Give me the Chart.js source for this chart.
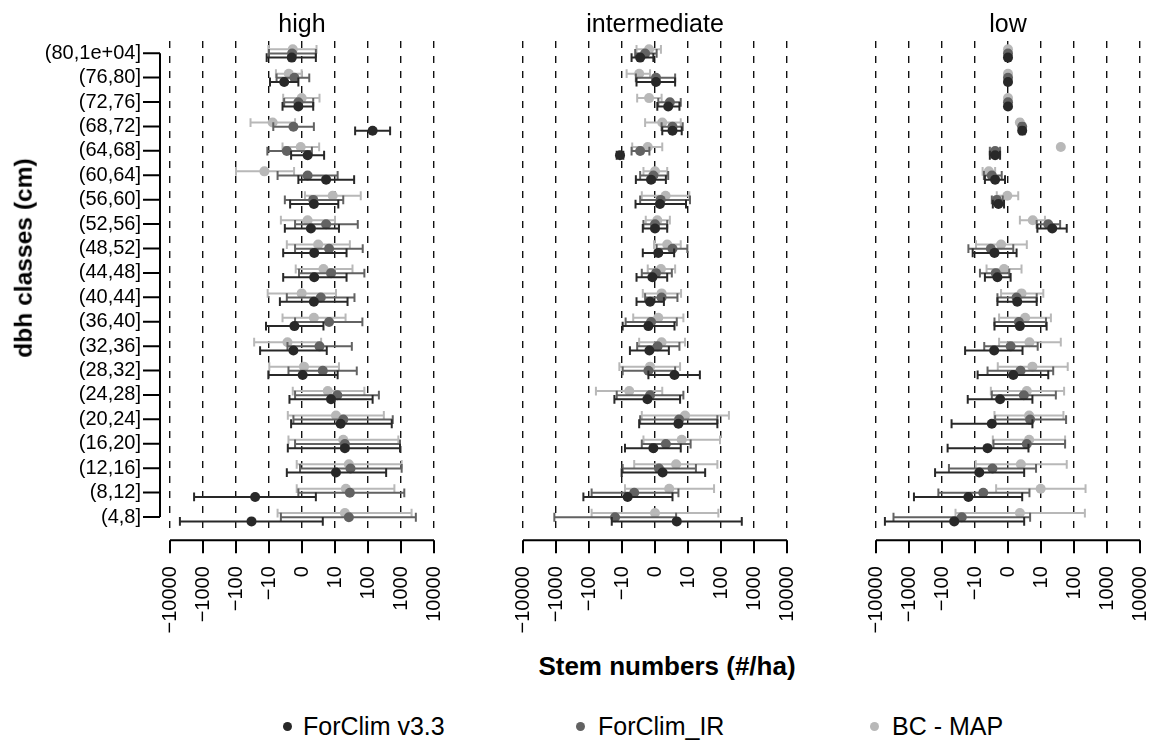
<!DOCTYPE html>
<html>
<head>
<meta charset="utf-8">
<title>Stem numbers by dbh class</title>
<script src="https://cdn.jsdelivr.net/npm/chart.js@4.4.1/dist/chart.umd.min.js"></script>
<style>
  body { margin: 0; background: #fff; }
  #fig { position: relative; width: 1151px; height: 742px; overflow: hidden;
         font-family: "Liberation Sans", Arial, Helvetica, sans-serif; color: #000; }
  #fig canvas { position: absolute; top: 0; }
  #ytitle { position: absolute; left: 23.5px; top: 258px; font-weight: bold; font-size: 24.6px;
            line-height: 1; white-space: nowrap; transform: translate(-50%, -50%) rotate(-90deg); }
  #xtitle { position: absolute; left: 667px; top: 653px; font-weight: bold; font-size: 26px;
            line-height: 1; white-space: nowrap; transform: translateX(-50%); }
  .lg-dot { position: absolute; width: 9px; height: 9px; border-radius: 50%; }
  .lg-txt { position: absolute; top: 714px; font-size: 25px; line-height: 1; white-space: nowrap; }
</style>
</head>
<body>
<div id="fig">
  <canvas id="pHigh" width="450" height="650" style="left:0px"></canvas>
  <canvas id="pInter" width="350" height="650" style="left:460px"></canvas>
  <canvas id="pLow" width="331" height="650" style="left:820px"></canvas>
  <div id="ytitle">dbh classes (cm)</div>
  <div id="xtitle">Stem numbers (#/ha)</div>
</div>
<script>
// dbh classes, top to bottom
const dbhClasses = ['(80,1e+04]', '(76,80]', '(72,76]', '(68,72]', '(64,68]', '(60,64]', '(56,60]',
  '(52,56]', '(48,52]', '(44,48]', '(40,44]', '(36,40]', '(32,36]', '(28,32]', '(24,28]',
  '(20,24]', '(16,20]', '(12,16]', '(8,12]', '(4,8]'];

// x axis is a symmetric log index: position k <-> +/-10^|k|
const tickValues = [-4, -3, -2, -1, 0, 1, 2, 3, 4];
const tickLabels = ['\u221210000', '\u22121000', '\u2212100', '\u221210', '0', '10', '100', '1000', '10000'];

// [mean, lower, upper] per dbh class, in axis units
const highV33 = [[-0.31,-1.07,0.42],[-0.54,-0.97,-0.11],[-0.11,-0.59,0.34],[2.14,1.61,2.67],[0.17,-0.33,0.67],
  [0.73,-0.11,1.58],[0.36,-0.36,1.10],[0.27,-0.52,1.12],[0.37,-0.57,1.35],[0.37,-0.57,1.35],
  [0.36,-0.67,1.38],[-0.23,-1.09,0.65],[-0.26,-1.27,0.75],[0.02,-1.02,1.08],[0.88,-0.38,2.14],
  [1.17,-0.33,2.72],[1.30,-0.43,2.97],[1.03,-0.46,2.55],[-1.42,-3.27,0.42],[-1.53,-3.70,0.63]];
const highIR = [[-0.30,-1.00,0.42],[-0.23,-0.77,0.22],[-0.11,-0.54,0.34],[-0.26,-0.87,0.36],[-0.46,-1.05,0.30],
  [0.17,-0.74,1.08],[0.34,-0.52,1.25],[0.73,-0.21,1.69],[0.82,-0.21,1.84],[0.88,-0.09,1.89],
  [0.57,-0.46,1.59],[0.82,-0.21,1.83],[0.53,-0.44,1.51],[0.63,-0.41,1.66],[1.07,-0.21,2.33],
  [1.25,-0.26,2.75],[1.30,-0.21,2.97],[1.47,-0.06,3.02],[1.45,-0.11,3.10],[1.42,-0.64,3.45]];
const highBC = [[-0.28,-1.02,0.44],[-0.40,-0.79,-0.01],[-0.01,-0.57,0.53],[-0.89,-1.56,-0.21],[-0.04,-0.59,0.52],
  [-1.14,-2.00,-0.24],[0.93,0.09,1.78],[0.17,-0.64,1.00],[0.49,-0.46,1.45],[0.65,-0.19,1.53],
  [-0.01,-1.04,1.03],[0.36,-0.59,1.32],[-0.44,-1.45,0.58],[0.06,-0.99,1.12],[0.78,-0.28,1.89],
  [1.03,-0.43,2.48],[1.25,-0.41,2.92],[1.42,-0.16,3.02],[1.33,-0.16,2.80],[1.30,-0.74,3.32]];

const interV33 = [[-0.45,-0.71,-0.05],[0.03,-0.56,0.61],[0.40,0.07,0.74],[0.53,0.22,0.81],[-1.06,-1.16,-0.96],
  [-0.12,-0.58,0.33],[0.15,-0.59,0.94],[0.00,-0.37,0.37],[0.10,-0.37,0.58],[-0.08,-0.56,0.37],
  [-0.15,-0.56,0.27],[-0.20,-0.98,0.59],[-0.17,-0.76,0.42],[0.59,-0.20,1.36],[-0.23,-1.23,0.76],
  [0.71,-0.48,1.89],[-0.05,-0.91,0.78],[0.23,-1.01,1.52],[-0.83,-2.17,0.53],[0.66,-1.31,2.63]];
const interIR = [[-0.30,-0.60,0.05],[0.03,-0.58,0.61],[0.45,0.10,0.78],[0.53,0.20,0.84],[-0.45,-0.71,-0.17],
  [-0.05,-0.45,0.40],[0.17,-0.45,1.06],[0.00,-0.35,0.37],[0.53,0.05,0.98],[0.03,-0.40,0.51],
  [0.20,-0.30,0.68],[-0.12,-0.89,0.66],[0.08,-0.54,0.74],[-0.20,-0.98,0.61],[-0.15,-1.16,0.86],
  [0.73,-0.45,1.89],[0.33,-0.40,1.08],[0.12,-0.98,1.24],[-0.63,-1.92,0.71],[-1.21,-3.05,0.64]];
const interBC = [[-0.18,-0.56,0.18],[-0.48,-0.86,-0.15],[-0.18,-0.54,0.20],[0.22,-0.30,0.78],[-0.22,-0.69,0.22],
  [0.00,-0.35,0.37],[0.32,-0.40,1.04],[0.07,-0.28,0.45],[0.37,-0.03,0.78],[0.18,-0.22,0.61],
  [0.20,-0.37,0.79],[0.10,-0.66,0.86],[0.20,-0.48,0.91],[-0.15,-1.08,0.76],[-0.78,-1.79,0.22],
  [0.91,-0.40,2.24],[0.81,-0.35,1.97],[0.64,-0.63,1.89],[0.43,-0.91,1.79],[0.00,-1.92,1.92]];

const lowV33 = [[0,0,0],[0,0,0],[0,0,0],[0.43,0.37,0.50],[-0.39,-0.55,-0.24],
  [-0.39,-0.70,-0.09],[-0.29,-0.46,-0.12],[1.34,0.89,1.78],[-0.41,-1.07,0.26],[-0.32,-0.70,0.08],
  [0.28,-0.32,0.87],[0.36,-0.41,1.17],[-0.42,-1.30,0.44],[0.16,-0.92,1.22],[-0.24,-1.22,0.74],
  [-0.49,-1.71,0.74],[-0.62,-1.83,0.62],[-0.87,-2.21,0.49],[-1.20,-2.85,0.43],[-1.63,-3.73,0.49]];
const lowIR = [[0,0,0],[0,0,0],[0,0,0],[0.43,0.37,0.50],[-0.39,-0.55,-0.24],
  [-0.49,-0.73,-0.19],[-0.34,-0.49,-0.16],[1.22,0.87,1.58],[-0.52,-1.20,0.16],[-0.37,-0.85,0.04],
  [0.26,-0.32,0.87],[0.33,-0.41,1.15],[0.08,-0.72,0.90],[0.38,-0.62,1.37],[0.48,-0.49,1.45],
  [0.67,-0.39,1.76],[0.57,-0.44,1.73],[-0.47,-1.79,0.85],[-0.75,-2.11,0.65],[-1.40,-3.47,0.67]];
const lowBC = [[0,0,0],[0,0,0],[0,0,0],[0.36,0.30,0.42],[1.60,1.60,1.60],
  [-0.58,-0.77,-0.39],[-0.02,-0.34,0.31],[0.75,0.36,1.12],[-0.21,-0.97,0.57],[-0.12,-0.65,0.41],
  [0.41,-0.21,1.07],[0.52,-0.27,1.30],[0.65,-0.27,1.60],[0.74,-0.31,1.81],[0.57,-0.52,1.70],
  [0.64,-0.41,1.68],[0.64,-0.46,1.73],[0.39,-0.98,1.78],[0.99,-0.36,2.35],[0.36,-1.59,2.33]];

const seriesNames = ['ForClim v3.3', 'ForClim_IR', 'BC - MAP'];

// ---- styles / layout ----
const FONT = '"Liberation Sans", Arial, Helvetica, sans-serif';
const seriesStyle = [
  { color: '#282828', shift: 0.18, legendDot: 287, legendText: 303 },
  { color: '#626262', shift: 0.01, legendDot: 580, legendText: 598 },
  { color: '#b8b8b8', shift: -0.16, legendDot: 874, legendText: 892 }
];
const CAP = 0.18;
const CHART_BOTTOM = 529.2;
const CANVAS_H = 650;

Chart.defaults.font.family = FONT;
Chart.defaults.color = '#000';

// R-style detached axes
const rAxes = {
    id: 'rAxes',
    afterDraw(chart, args, opts) {
        const { ctx, chartArea, scales: { x, y } } = chart;
        ctx.save();
        ctx.strokeStyle = '#000';
        ctx.lineWidth = 2;
        ctx.beginPath();
        const xb = chartArea.bottom + 11;
        ctx.moveTo(x.getPixelForValue(tickValues[0]), xb);
        ctx.lineTo(x.getPixelForValue(tickValues[tickValues.length - 1]), xb);
        tickValues.forEach(v => {
            const px = x.getPixelForValue(v);
            ctx.moveTo(px, xb);
            ctx.lineTo(px, xb + 13);
        });
        if (opts.showY) {
            const yl = chartArea.left - 10;
            ctx.moveTo(yl, y.getPixelForValue(0));
            ctx.lineTo(yl, y.getPixelForValue(dbhClasses.length - 1));
            dbhClasses.forEach((c, i) => {
                const py = y.getPixelForValue(i);
                ctx.moveTo(yl, py);
                ctx.lineTo(yl - 17, py);
            });
        }
        ctx.stroke();
        ctx.restore();
    }
};

function errorSegments(rows, shift) {
    const pts = [];
    const gap = { x: null, y: null };
    rows.forEach(([m, lo, hi], i) => {
        if (hi - lo < 1e-9) return;
        const y = i + shift;
        pts.push({ x: lo, y }, { x: hi, y }, gap,
                 { x: lo, y: y - CAP }, { x: lo, y: y + CAP }, gap,
                 { x: hi, y: y - CAP }, { x: hi, y: y + CAP }, gap);
    });
    return pts;
}

function buildDatasets(seriesRows) {
    const datasets = [];
    seriesRows.forEach((rows, k) => {
        const st = seriesStyle[k];
        datasets.push({
            label: seriesNames[k],
            data: rows.map((r, i) => ({ x: r[0], y: i + st.shift })),
            pointRadius: 5,
            pointBackgroundColor: st.color,
            pointBorderWidth: 0,
            showLine: false,
            order: k * 2
        });
        datasets.push({
            label: seriesNames[k] + ' range',
            data: errorSegments(rows, st.shift),
            showLine: true,
            spanGaps: false,
            borderColor: st.color,
            borderWidth: 2,
            borderCapStyle: 'butt',
            pointRadius: 0,
            order: k * 2 + 1
        });
    });
    return datasets;
}

function makePanel(canvasId, title, seriesRows, pad, showY) {
    const ctx = document.getElementById(canvasId).getContext('2d');
    return new Chart(ctx, {
        type: 'scatter',
        data: { datasets: buildDatasets(seriesRows) },
        options: {
            responsive: false,
            animation: false,
            events: [],
            layout: { padding: { left: pad[0], right: pad[1], top: 0, bottom: 0 } },
            plugins: {
                legend: { display: false },
                tooltip: { enabled: false },
                title: {
                    display: true,
                    text: title,
                    fullSize: false,
                    color: '#000',
                    font: { size: 25, weight: 'normal', lineHeight: 1.2 },
                    padding: { top: 10, bottom: 1 }
                },
                rAxes: { showY }
            },
            scales: {
                x: {
                    type: 'linear',
                    min: -4,
                    max: 4,
                    bounds: 'data',
                    afterBuildTicks: s => { s.ticks = tickValues.map(v => ({ value: v })); },
                    afterFit: s => {
                        s.height = CANVAS_H - CHART_BOTTOM;
                        s.paddingLeft = 0;
                        s.paddingRight = 0;
                    },
                    grid: { display: true, drawTicks: false, color: '#111', lineWidth: 1.4 },
                    border: { display: false, dash: [7, 8] },
                    ticks: {
                        autoSkip: false,
                        minRotation: 90,
                        maxRotation: 90,
                        padding: 37,
                        color: '#000',
                        font: { size: 20 },
                        callback: (v, i) => tickLabels[i]
                    }
                },
                y: {
                    type: 'linear',
                    display: showY,
                    reverse: true,
                    min: -0.5,
                    max: dbhClasses.length - 0.5,
                    bounds: 'data',
                    afterBuildTicks: s => { s.ticks = dbhClasses.map((c, i) => ({ value: i })); },
                    afterFit: s => {
                        if (showY) s.width = 170;
                        s.paddingTop = 0;
                        s.paddingBottom = 0;
                    },
                    grid: { display: false, drawTicks: false },
                    border: { display: false },
                    ticks: {
                        autoSkip: false,
                        padding: 29,
                        color: '#000',
                        font: { size: 20 },
                        callback: (v, i) => dbhClasses[i]
                    }
                }
            }
        },
        plugins: [rAxes]
    });
}

makePanel('pHigh', 'high', [highV33, highIR, highBC], [0, 16], true);
makePanel('pInter', 'intermediate', [interV33, interIR, interBC], [63, 23], false);
makePanel('pLow', 'low', [lowV33, lowIR, lowBC], [56, 11], false);

// legend
const fig = document.getElementById('fig');
seriesNames.forEach((name, k) => {
    const st = seriesStyle[k];
    const dot = document.createElement('div');
    dot.className = 'lg-dot';
    dot.style.background = st.color;
    dot.style.left = (st.legendDot - 4.5) + 'px';
    dot.style.top = (726 - 4.5) + 'px';
    fig.appendChild(dot);
    const txt = document.createElement('div');
    txt.className = 'lg-txt';
    txt.style.left = st.legendText + 'px';
    txt.textContent = name;
    fig.appendChild(txt);
});
</script>
</body>
</html>
